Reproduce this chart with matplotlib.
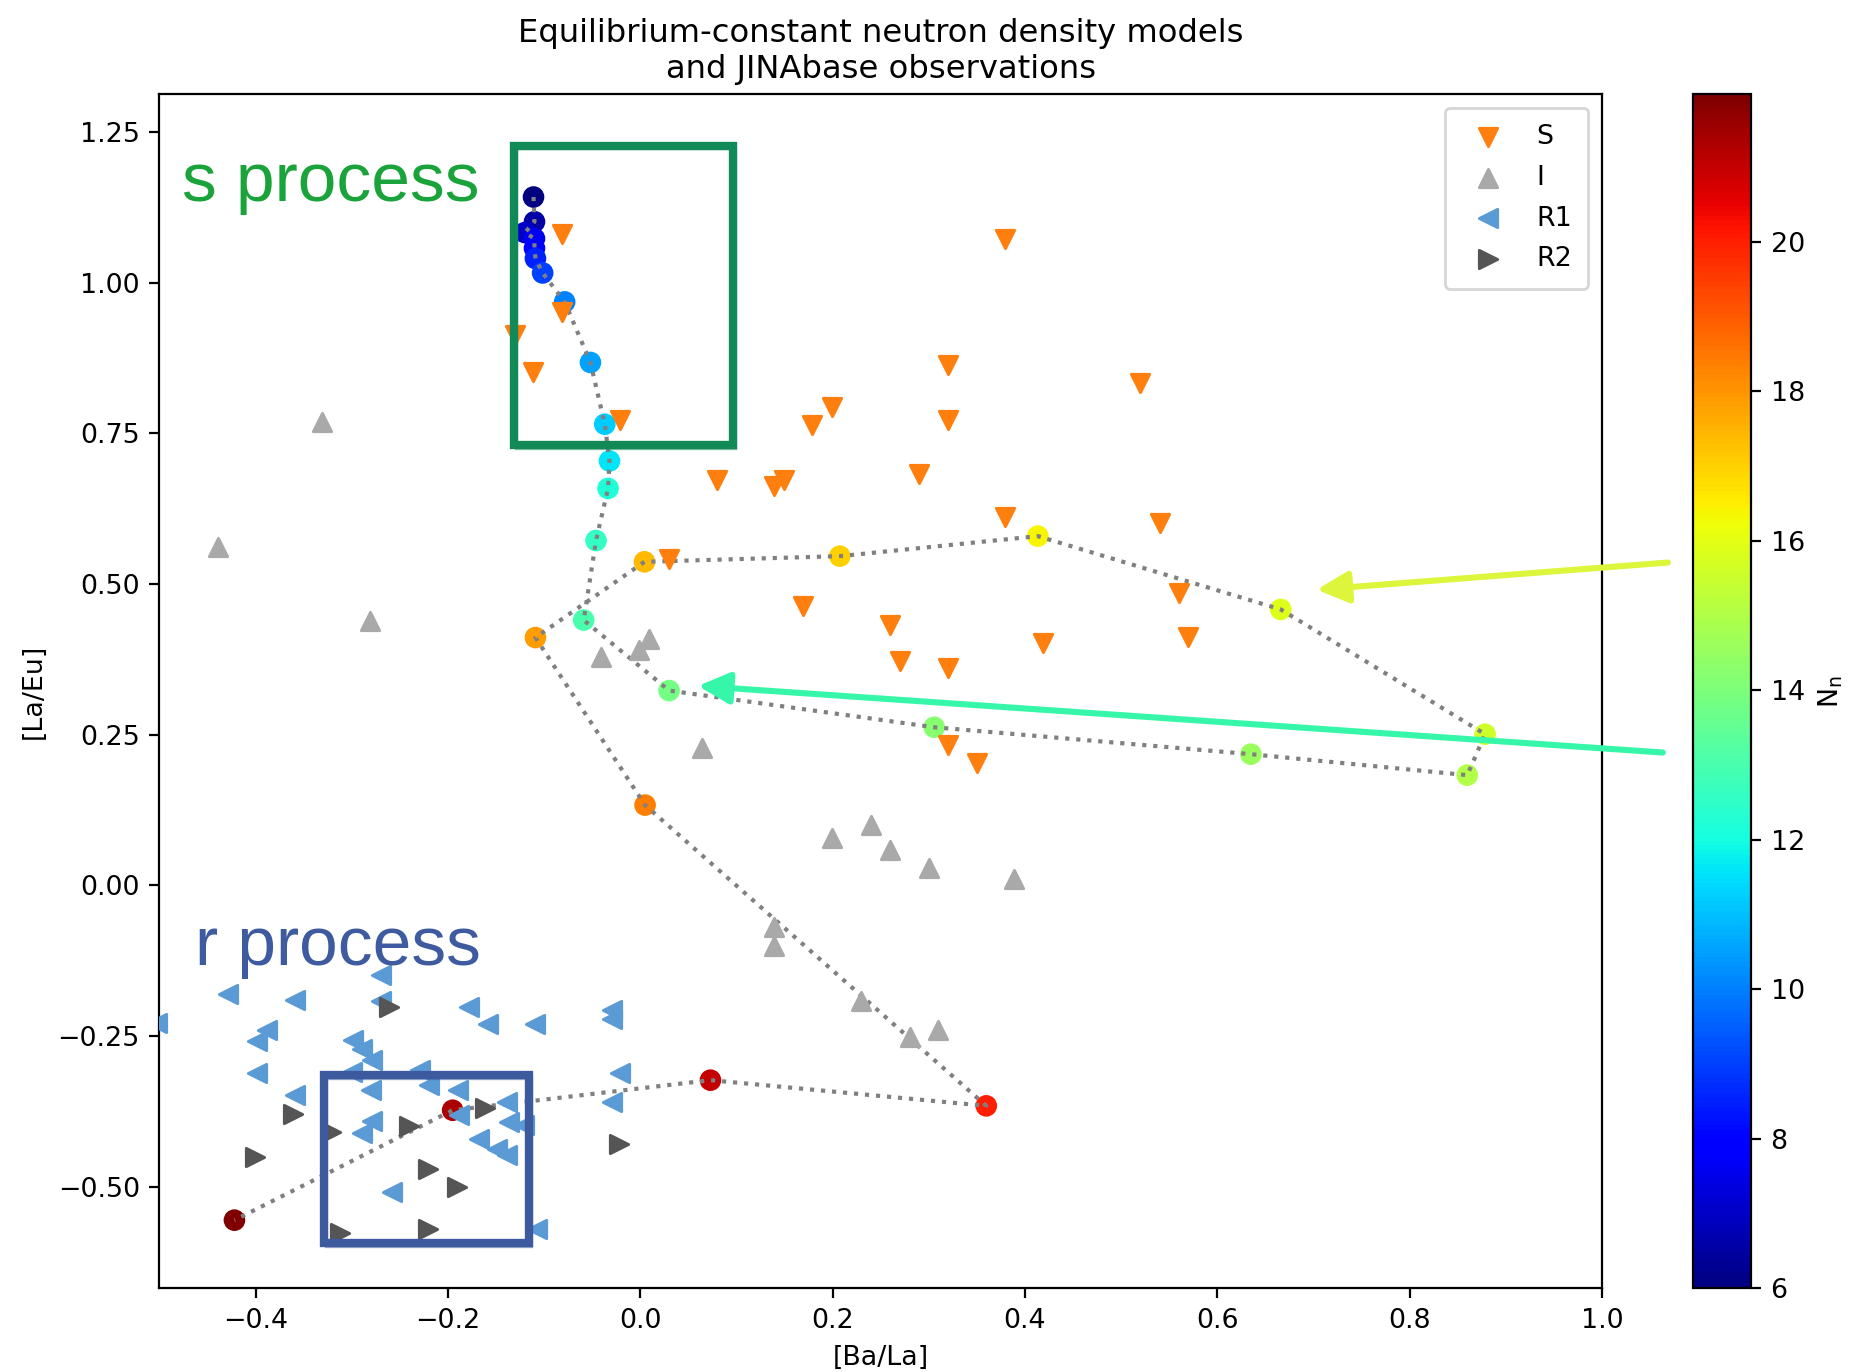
import numpy as np
import matplotlib
matplotlib.use("Agg")
import matplotlib.pyplot as plt
from matplotlib.patches import Rectangle

plt.rcParams['font.size'] = 9.7

# model track: [Ba/La], [La/Eu] and neutron density Nn for each model
model_x = [-0.111, -0.110, -0.120, -0.110, -0.110, -0.109, -0.1015, -0.0786, -0.0518, -0.0369,
           -0.032, -0.0335, -0.046, -0.0588, 0.030, 0.3057, 0.635, 0.860, 0.8785, 0.666,
           0.4134, 0.2075, 0.0044, -0.109, 0.005, 0.3598, 0.073, -0.1951, -0.422]
model_y = [1.142, 1.101, 1.083, 1.073, 1.057, 1.040, 1.016, 0.968, 0.8675, 0.765,
           0.704, 0.6585, 0.572, 0.440, 0.323, 0.2622, 0.2175, 0.1827, 0.2507, 0.4577,
           0.5793, 0.5461, 0.5367, 0.411, 0.133, -0.366, -0.3234, -0.3733, -0.5557]
model_nn = [6.0, 6.5, 7.0, 7.6, 8.0, 8.5, 9.0, 10.0, 10.5, 11.2,
            11.6, 12.2, 12.6, 13.0, 13.8, 14.2, 14.6, 15.0, 15.6, 15.9,
            16.4, 17.0, 17.4, 17.9, 18.4, 20.0, 21.0, 21.3, 21.95]

# JINAbase stars, by class
s_x = [-0.0814, -0.0814, -0.1299, -0.1115, -0.0206, 0.3788, 0.3202, 0.5201, 0.1996, 0.1789,
       0.3202, 0.0801, 0.1386, 0.149, 0.2899, 0.3788, 0.540, 0.0296, 0.560, 0.169,
       0.2593, 0.2697, 0.320, 0.4188, 0.570, 0.320, 0.3505]
s_y = [1.0805, 0.9516, 0.9129, 0.852, 0.7718, 1.0717, 0.863, 0.8338, 0.7929, 0.7635,
       0.7718, 0.6722, 0.6628, 0.6722, 0.6822, 0.6114, 0.6014, 0.5406, 0.4849, 0.463,
       0.4316, 0.3729, 0.3611, 0.4026, 0.4115, 0.2325, 0.2028]

i_x = [-0.331, -0.4396, -0.2808, -0.0408, -0.0008, 0.0096, 0.0637, 0.1996, 0.2395, 0.2596,
       0.3002, 0.3887, 0.1389, 0.1389, 0.2298, 0.2801, 0.3099]
i_y = [0.769, 0.5605, 0.4388, 0.379, 0.390, 0.408, 0.2277, 0.0783, 0.1004, 0.0589,
       0.0292, 0.0096, -0.0697, -0.1012, -0.1918, -0.2511, -0.2405]

r1_x = [-0.503, -0.4289, -0.3595, -0.2697, -0.2697, -0.1785, -0.1584, -0.1098, -0.3883, -0.3987,
        -0.2992, -0.2895, -0.2791, -0.3987, -0.2999, -0.2287, -0.2198, -0.2801, -0.1896, -0.3595,
        -0.1386, -0.2791, -0.2895, -0.1889, -0.1368, -0.1212, -0.168, -0.149, -0.1386, -0.2583,
        -0.1074, -0.0294, -0.0294, -0.0208, -0.0294]
r1_y = [-0.228, -0.1812, -0.1907, -0.1492, -0.1918, -0.2018, -0.2294, -0.2294, -0.2405, -0.2588,
        -0.2571, -0.2709, -0.2902, -0.3107, -0.3097, -0.3068, -0.3317, -0.340, -0.3389, -0.3483,
        -0.3594, -0.391, -0.4108, -0.3815, -0.3926, -0.398, -0.4202, -0.4368, -0.4479, -0.5088,
        -0.5696, -0.2068, -0.2225, -0.3109, -0.360]

r2_x = [-0.2617, -0.3616, -0.3213, -0.2404, -0.1611, -0.4004, -0.2208, -0.1906, -0.312, -0.2208,
        -0.022]
r2_y = [-0.2018, -0.3799, -0.4092, -0.3998, -0.3704, -0.4507, -0.470, -0.5005, -0.5768, -0.5696,
        -0.4288]

nn_ticks = [6, 8, 10, 12, 14, 16, 18, 20]

fig = plt.figure(figsize=(9.28, 6.86), dpi=200)
ax = fig.add_axes([0.0859, 0.0609, 0.7772, 0.8704])
cax = fig.add_axes([0.9122, 0.0609, 0.0313, 0.8704])

sc = ax.scatter(model_x, model_y, c=model_nn, cmap='jet', vmin=6, vmax=21.97, s=46, zorder=2)
ax.plot(model_x, model_y, ':', color='gray', lw=1.5, zorder=3)

ax.scatter(s_x, s_y, marker='v', color='#ff7f0e', s=44, label='S', zorder=4)
ax.scatter(i_x, i_y, marker='^', color='#a9a9a9', s=44, label='I', zorder=4)
ax.scatter(r1_x, r1_y, marker='<', color='#5b9bd5', s=44, label='R1', zorder=4)
ax.scatter(r2_x, r2_y, marker='>', color='#555555', s=44, label='R2', zorder=4)

ax.set_xlim(-0.5, 1.0)
ax.set_ylim(-0.669, 1.3125)
ax.set_xlabel('[Ba/La]')
ax.set_ylabel('[La/Eu]')
ax.set_title('Equilibrium-constant neutron density models\nand JINAbase observations')
ax.legend(loc='upper right', labelspacing=0.55, borderpad=0.6)

cb = fig.colorbar(sc, cax=cax, ticks=nn_ticks)
cb.set_label('N$_\\mathrm{n}$')

# hand-drawn style boxes around the two regimes
def rough_box(x0, y0, x1, y1, color):
    for dx, dy, lw, a in [(0, 0, 3.0, 1.0), (0.002, -0.004, 1.2, 0.5), (-0.002, 0.004, 1.0, 0.5)]:
        ax.add_patch(Rectangle((x0 + dx, y0 + dy), x1 - x0, y1 - y0, fill=False,
                               edgecolor=color, lw=lw, alpha=a, zorder=6))

rough_box(-0.1316, 0.7303, 0.0963, 1.2265, '#128a58')
rough_box(-0.329, -0.594, -0.116, -0.315, '#3d5a9e')

ax.text(-0.4766, 1.135, 's process', fontsize=25, color='#1aa33a',
        family='Liberation Sans', ha='left', va='baseline', zorder=7)
ax.text(-0.463, -0.132, 'r process', fontsize=25, color='#3f5b9f',
        family='Liberation Sans', ha='left', va='baseline', zorder=7)

ax.annotate('', xy=(0.6977, 0.4897), xytext=(1.0744, 0.5362), annotation_clip=False,
            arrowprops=dict(arrowstyle='-|>', color='#ddf53a', lw=2.2, mutation_scale=24))
ax.annotate('', xy=(0.0543, 0.3314), xytext=(1.0691, 0.2196), annotation_clip=False,
            arrowprops=dict(arrowstyle='-|>', color='#36f7a9', lw=2.2, mutation_scale=24))

fig.savefig('out.png', dpi=200)
